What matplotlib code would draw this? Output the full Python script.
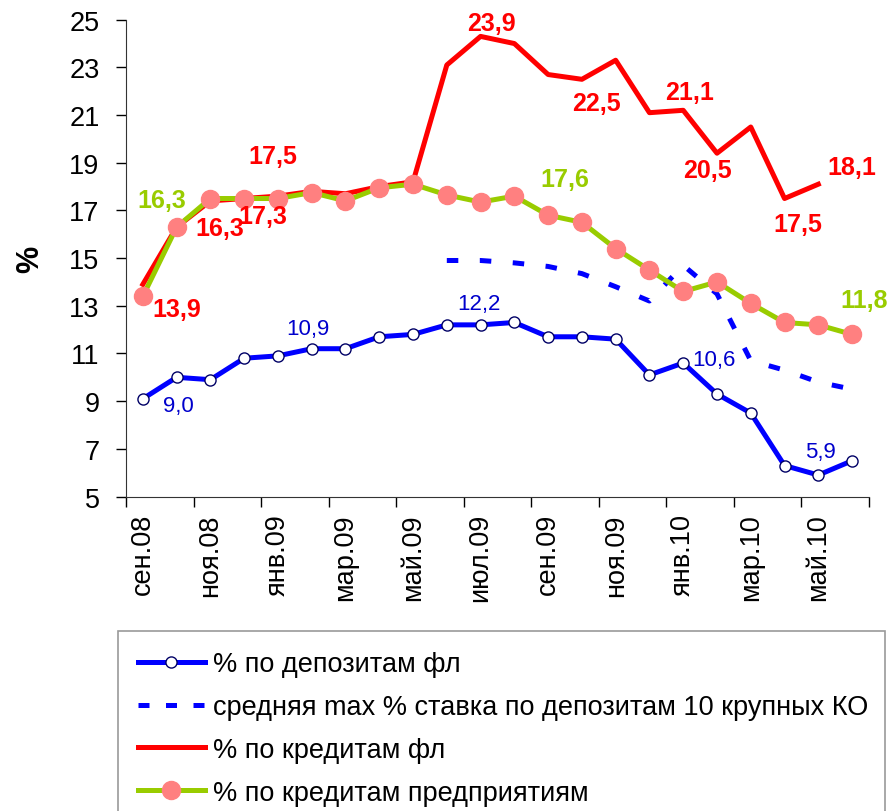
import matplotlib
matplotlib.use('Agg')
import matplotlib.pyplot as plt
import numpy as np

plt.rcParams['font.family'] = ['Liberation Sans', 'DejaVu Sans']

# месяцы: сен.08 ... июн.10
months = ['сен.08', 'окт.08', 'ноя.08', 'дек.08', 'янв.09', 'фев.09', 'мар.09', 'апр.09',
          'май.09', 'июн.09', 'июл.09', 'авг.09', 'сен.09', 'окт.09', 'ноя.09', 'дек.09',
          'янв.10', 'фев.10', 'мар.10', 'апр.10', 'май.10', 'июн.10']

dep_fl = [9.1, 10.0, 9.9, 10.8, 10.9, 11.2, 11.2, 11.7, 11.8, 12.2, 12.2, 12.3,
          11.7, 11.7, 11.6, 10.1, 10.6, 9.3, 8.5, 6.3, 5.9, 6.5]
# средняя max ставка 10 крупных КО (с июн.09)
dep_top10 = [None] * 9 + [14.9, 14.9, 14.8, 14.65, 14.35, 13.8, 13.2, 14.7, 13.5,
                          10.7, 10.3, 9.8, 9.5]
cred_fl = [13.9, 16.3, 17.4, 17.5, 17.6, 17.8, 17.7, 18.0, 18.2, 23.1, 24.3, 24.0,
           22.7, 22.5, 23.3, 21.1, 21.2, 19.4, 20.5, 17.5, 18.1, None]
cred_corp = [13.4, 16.3, 17.5, 17.5, 17.5, 17.75, 17.4, 17.95, 18.1, 17.65, 17.35, 17.6,
             16.8, 16.5, 15.4, 14.5, 13.6, 14.0, 13.1, 12.3, 12.2, 11.8]

labels_ser = ['% по депозитам фл',
              'средняя max % ставка по депозитам 10 крупных КО',
              '% по кредитам фл',
              '% по кредитам предприятиям']

# подписи: (индекс точки, текст, смещение в пикселях)
lab_red = [(0, '13,9', (34, -25)), (1, '16,3', (43, -1)), (3, '17,3', (19, -17)),
           (4, '17,5', (-5, 40)), (10, '23,9', (11, 13)), (13, '22,5', (15, -24)),
           (16, '21,1', (6, 18)), (17, '20,5', (-10, -17)), (19, '17,5', (13, -25)),
           (20, '18,1', (34, 17))]
lab_green = [(1, '16,3', (-15, 27)), (12, '17,6', (17, 36)), (21, '11,8', (12, 34))]
lab_blue = [(0, '9,0', (36, -7)), (5, '10,9', (-4, 20)), (10, '12,2', (-2, 21)),
            (16, '10,6', (31, 4)), (20, '5,9', (2, 24))]

x = np.arange(len(months))
def arr(v):
    return np.array([np.nan if a is None else a for a in v], dtype=float)

fig = plt.figure(figsize=(8.94, 8.12), dpi=100)
ax = fig.add_axes([0.1409, 0.3873, 0.8311, 0.5872])

blue = '#0000ff'
red = '#ff0000'
green = '#99cc00'
pink = '#ff8080'

l1, = ax.plot(x, arr(dep_fl), color=blue, lw=3.6, marker='o', markersize=8,
              markerfacecolor='white', markeredgecolor='#000066', markeredgewidth=1.0,
              zorder=3, label=labels_ser[0])
l2, = ax.plot(x, arr(dep_top10), color=blue, lw=3.6, dashes=(2.3, 4.3),
              zorder=3, label=labels_ser[1])
l3, = ax.plot(x, arr(cred_fl), color=red, lw=3.6, zorder=4, label=labels_ser[2])
l4, = ax.plot(x, arr(cred_corp), color=green, lw=3.6, marker='o', markersize=13,
              markerfacecolor=pink, markeredgecolor=pink, zorder=5, label=labels_ser[3])

def put(series, labs, color, weight, size):
    for i, t, (dx, dy) in labs:
        ax.annotate(t, (x[i], series[i]), xytext=(dx * 0.72, dy * 0.72),
                    textcoords='offset points', ha='center', va='center',
                    color=color, fontweight=weight, fontsize=size, zorder=6)

put(cred_fl, lab_red, red, 'bold', 18)
put(cred_corp, lab_green, green, 'bold', 18)
put(dep_fl, lab_blue, '#0000cc', 'normal', 16)

ax.set_xlim(-0.5, len(months) - 0.5)
ax.set_ylim(5, 25)
ax.set_yticks(np.arange(5, 26, 2))
ax.set_xticks(x[::2])
ax.set_xticklabels(months[::2], rotation=90)
ax.set_xticks(np.arange(-0.5, len(months), 2), minor=True)
ax.tick_params(axis='x', which='major', length=0, pad=12, labelsize=19.5)
ax.tick_params(axis='x', which='minor', length=7, width=1, direction='out')
ax.tick_params(axis='y', length=7, width=1, direction='out', pad=12, labelsize=19.5)
ax.spines['top'].set_visible(False)
ax.spines['right'].set_visible(False)
ax.spines['left'].set_color('#333333')
ax.spines['bottom'].set_color('#333333')
ax.set_ylabel('%', fontsize=22, fontweight='bold', labelpad=17)

leg = fig.legend(handles=[l1, l2, l3, l4], loc='upper left',
                 bbox_to_anchor=(118 / 894, 1 - 640 / 812, 767 / 894, 0.01),
                 mode='expand', borderaxespad=0, frameon=True, fancybox=False,
                 prop={'size': 19.5},
                 handlelength=2.45, handletextpad=0.3, labelspacing=0.62,
                 borderpad=0.75, numpoints=1)
leg.get_frame().set_edgecolor('#808080')
leg.get_frame().set_linewidth(1.2)
# три штриха в значке легенды
leg.get_lines()[1].set_dashes((2.2, 3.3))

fig.savefig('out.png', dpi=100)
